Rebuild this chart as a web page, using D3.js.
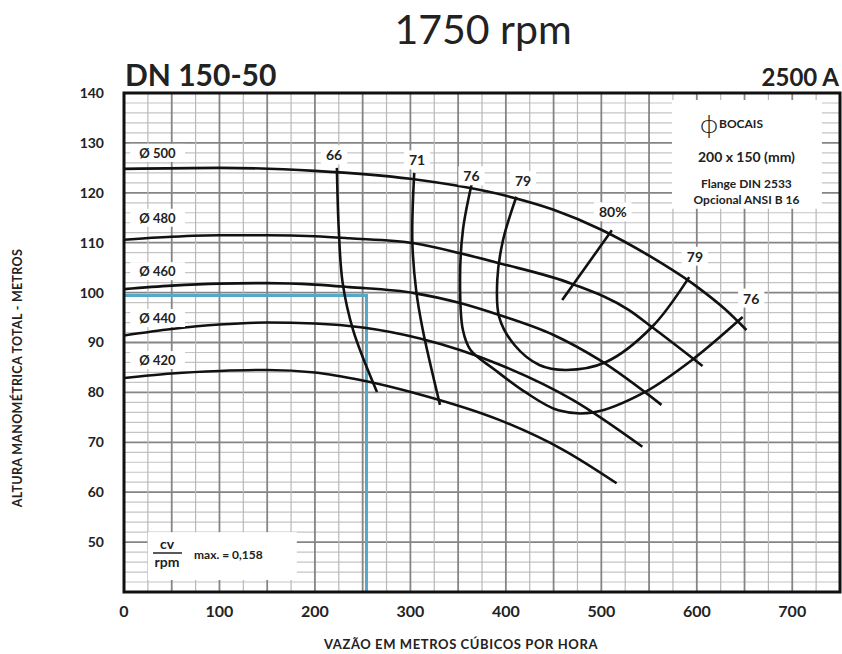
<!DOCTYPE html>
<html>
<head>
<meta charset="utf-8">
<script src="https://cdn.jsdelivr.net/npm/d3@7"></script>
<style>
  body { margin: 0; background: #fff; }
  svg { display: block; }
  text { font-family: Lato, "Open Sans", sans-serif; fill: #222; }
</style>
</head>
<body>
<script>
/* Head curves per impeller diameter: [flow m3/h, head m] */
var diameters = ["Ø 500", "Ø 480", "Ø 460", "Ø 440", "Ø 420"];
var headCurves = [
  [[0, 124.8], [100, 125.0], [200, 124.4], [300, 122.8], [400, 119.4], [450, 116.6], [500, 112.6], [550, 107.4], [600, 101.2], [630, 96.6], [652, 92.5]],
  [[0, 110.6], [50, 111.2], [100, 111.5], [150, 111.5], [200, 111.3], [236, 110.9], [304, 109.9], [352, 107.9], [393, 105.9], [470, 101.7], [529, 96.5], [553, 93.1], [606, 85.3]],
  [[0, 100.7], [50, 101.4], [100, 101.8], [150, 101.9], [200, 101.6], [236, 101.1], [304, 99.9], [352, 97.9], [393, 95.5], [450, 91.5], [498, 86.5], [563, 77.5]],
  [[0, 91.4], [50, 92.7], [100, 93.6], [150, 94.0], [200, 93.8], [250, 93.0], [310, 90.8], [393, 85.6], [470, 78.5], [543, 69.1]],
  [[0, 82.9], [50, 83.8], [100, 84.3], [150, 84.5], [200, 84.0], [250, 82.4], [310, 79.6], [393, 74.5], [460, 68.5], [516, 61.8]]
];
var diameterLabelPos = [[16, 128], [16, 115], [16, 104.3], [16, 94.9], [16, 86.5]];

/* Iso-efficiency curves (%): [flow, head] */
var effCurves = [
  [[223, 125.0], [225, 112.5], [229, 102.0], [240, 92.5], [265, 80.1]],
  [[304, 124.0], [302, 110.5], [306, 100.5], [313, 92.5], [331, 77.5]],
  [[364, 121.6], [355, 112.5], [352, 102.5], [355, 92.5], [363, 88.5], [388, 84.6], [420, 80.1], [455, 76.4], [492, 76.0], [545, 80.0], [595, 86.5], [648, 95.1]],
  [[411, 119.2], [397, 110.5], [391, 102.5], [393, 95.1], [409, 89.5], [435, 85.5], [463, 84.5], [505, 86.1], [553, 93.1], [592, 103.1]],
  [[459, 98.5], [511, 112.5]]
];
var effLabels = ["66", "71", "76", "79", "80%", "79", "76"];
var effLabelPos = [[220, 127.6], [307, 126.6], [364, 123.4], [418, 122.4], [512, 116.2], [598, 107.3], [657, 98.9]];

/* Duty point */
var dutyPoint = [254, 99.4];

var xTicks = [0, 100, 200, 300, 400, 500, 600, 700];
var yTicks = [50, 60, 70, 80, 90, 100, 110, 120, 130, 140];

var W = 842, H = 654;
var svg = d3.select("body").append("svg").attr("width", W).attr("height", H);

var x = d3.scaleLinear().domain([0, 750]).range([124, 840]);
var y = d3.scaleLinear().domain([40, 140]).range([592, 93]);

/* grid */
var grid = svg.append("g");
grid.selectAll(".hmin").data(d3.range(40, 141, 2)).enter().append("line")
  .attr("x1", x(0)).attr("x2", x(750))
  .attr("y1", function (d) { return y(d); }).attr("y2", function (d) { return y(d); })
  .attr("stroke", function (d) { return d % 10 === 0 ? "#858585" : "#c4c4c4"; })
  .attr("stroke-width", function (d) { return d % 10 === 0 ? 1.8 : 1.2; });
grid.selectAll(".vmin").data(d3.range(0, 751, 25)).enter().append("line")
  .attr("y1", y(40)).attr("y2", y(140))
  .attr("x1", function (d) { return x(d); }).attr("x2", function (d) { return x(d); })
  .attr("stroke", function (d) { return d % 50 === 0 ? "#858585" : "#b8b8b8"; })
  .attr("stroke-width", function (d) { return d % 50 === 0 ? 1.8 : 1.2; });

/* white boxes: bocais info and cv/rpm */
svg.append("rect").attr("x", x(574)).attr("y", y(138.6)).attr("width", x(731) - x(574)).attr("height", y(116.8) - y(138.6)).attr("fill", "#fff");
svg.append("rect").attr("x", x(25)).attr("y", y(52)).attr("width", x(181) - x(25)).attr("height", y(42.4) - y(52)).attr("fill", "#fff");

/* blue duty lines */
svg.append("path")
  .attr("d", d3.line().x(function (d) { return x(d[0]); }).y(function (d) { return y(d[1]); })([[0, dutyPoint[1]], dutyPoint, [dutyPoint[0], 40]]))
  .attr("fill", "none").attr("stroke", "#55a8c8").attr("stroke-width", 3);

var headLine = d3.line().x(function (d) { return x(d[0]); }).y(function (d) { return y(d[1]); }).curve(d3.curveMonotoneX);
var effLine = d3.line().x(function (d) { return x(d[0]); }).y(function (d) { return y(d[1]); }).curve(d3.curveCatmullRom.alpha(0.5));

svg.selectAll(".head").data(headCurves).enter().append("path")
  .attr("d", headLine).attr("fill", "none").attr("stroke", "#111").attr("stroke-width", 2.6);
svg.selectAll(".eff").data(effCurves).enter().append("path")
  .attr("d", effLine).attr("fill", "none").attr("stroke", "#111").attr("stroke-width", 2.6);

/* labels with white background */
function boxedLabel(txt, px, py, size, anchor, padX) {
  var g = svg.append("g");
  var t = g.append("text").attr("x", px).attr("y", py).attr("font-size", size).attr("font-weight", 700)
    .attr("text-anchor", anchor || "middle").attr("dominant-baseline", "central").text(txt);
  var b = t.node().getBBox();
  g.insert("rect", "text").attr("x", b.x - padX).attr("y", b.y - 1).attr("width", b.width + 2 * padX).attr("height", b.height + 2).attr("fill", "#fff");
}
diameters.forEach(function (d, i) {
  boxedLabel(d, x(diameterLabelPos[i][0]), y(diameterLabelPos[i][1]), 13, "start", 9);
});
effLabels.forEach(function (d, i) {
  boxedLabel(d, x(effLabelPos[i][0]), y(effLabelPos[i][1]), 14, "middle", 5);
});

/* frame */
svg.append("rect").attr("x", x(0)).attr("y", y(140)).attr("width", x(750) - x(0)).attr("height", y(40) - y(140))
  .attr("fill", "none").attr("stroke", "#111").attr("stroke-width", 3);

/* axes tick labels */
svg.selectAll(".yt").data(yTicks).enter().append("text")
  .attr("x", 104).attr("y", function (d) { return y(d); }).attr("dy", "0.35em")
  .attr("text-anchor", "end").attr("font-size", 14).attr("font-weight", 700).text(function (d) { return d; });
svg.selectAll(".xt").data(xTicks).enter().append("text")
  .attr("x", function (d) { return x(d); }).attr("y", 611).attr("dy", "0.35em")
  .attr("text-anchor", "middle").attr("font-size", 16).attr("font-weight", 700).text(function (d) { return d; });

svg.append("text").attr("x", 461).attr("y", 649).attr("text-anchor", "middle")
  .attr("font-size", 13).attr("letter-spacing", 0.6).attr("font-weight", 700).text("VAZÃO EM METROS CÚBICOS POR HORA");
svg.append("text").attr("transform", "translate(22,378) rotate(-90)").attr("text-anchor", "middle")
  .attr("font-size", 12.5).attr("letter-spacing", 0.3).attr("font-weight", 700).text("ALTURA MANOMÉTRICA TOTAL - METROS");

/* titles */
svg.append("text").attr("x", 483).attr("y", 44).attr("text-anchor", "middle").attr("font-size", 41).text("1750 rpm");
svg.append("text").attr("x", 125).attr("y", 86).attr("font-size", 30).attr("font-weight", 700).text("DN 150-50");
svg.append("text").attr("x", 839).attr("y", 86).attr("text-anchor", "end").attr("font-size", 24).attr("font-weight", 700).text("2500 A");

/* bocais box text */
var bx = x(652);
svg.append("text").attr("x", 700).attr("y", 133).attr("font-size", 26).attr("font-weight", 300).text("ϕ");
svg.append("text").attr("x", 719).attr("y", 128).attr("font-size", 12).attr("font-weight", 700).text("BOCAIS");
svg.append("text").attr("x", bx).attr("y", 162).attr("text-anchor", "middle").attr("font-size", 14).attr("font-weight", 700).text("200 x 150 (mm)");
svg.append("text").attr("x", bx).attr("y", 188).attr("text-anchor", "middle").attr("font-size", 12).attr("font-weight", 700).text("Flange DIN 2533");
svg.append("text").attr("x", bx).attr("y", 204).attr("text-anchor", "middle").attr("font-size", 12).attr("font-weight", 700).text("Opcional ANSI B 16");

/* cv / rpm */
svg.append("text").attr("x", 167).attr("y", 549).attr("text-anchor", "middle").attr("font-size", 14).attr("font-weight", 700).text("cv");
svg.append("line").attr("x1", 153).attr("x2", 182).attr("y1", 553).attr("y2", 553).attr("stroke", "#222").attr("stroke-width", 1.5);
svg.append("text").attr("x", 167).attr("y", 567).attr("text-anchor", "middle").attr("font-size", 14).attr("font-weight", 700).text("rpm");
svg.append("text").attr("x", 194).attr("y", 559).attr("font-size", 12).attr("font-weight", 700).text("max. = 0,158");
</script>
</body>
</html>
